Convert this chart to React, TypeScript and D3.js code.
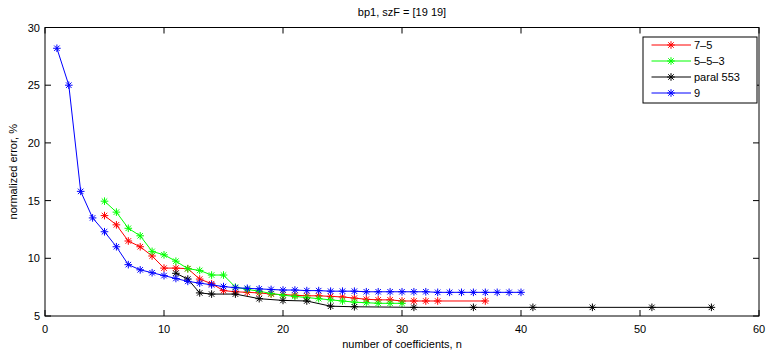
import React from "react";
import * as d3 from "d3";

// n values and normalized error (%) per series
const nRed = [5, 6, 7, 8, 9, 10, 11, 12, 13, 14, 15, 16, 17, 18, 19, 20, 21, 22, 23, 24, 25, 26, 27, 28, 29, 30, 31, 32, 33, 37];
const errRed = [13.7, 12.9, 11.5, 11.0, 10.2, 9.15, 9.15, 9.1, 8.2, 7.8, 7.2, 7.1, 7.05, 7.0, 6.9, 6.85, 6.8, 6.75, 6.75, 6.7, 6.65, 6.55, 6.45, 6.4, 6.4, 6.3, 6.3, 6.3, 6.3, 6.3];

const nGreen = [5, 6, 7, 8, 9, 10, 11, 12, 13, 14, 15, 16, 17, 18, 19, 20, 21, 22, 23, 24, 25, 26, 27, 28, 29, 30];
const errGreen = [14.95, 14.0, 12.6, 11.95, 10.6, 10.3, 9.75, 9.1, 8.95, 8.55, 8.55, 7.5, 7.3, 7.15, 6.95, 6.8, 6.7, 6.6, 6.5, 6.4, 6.3, 6.2, 6.15, 6.1, 6.1, 6.1];

const nBlack = [11, 12, 13, 14, 16, 18, 20, 22, 24, 26, 31, 36, 41, 46, 51, 56];
const errBlack = [8.7, 8.2, 7.0, 6.9, 6.9, 6.5, 6.35, 6.3, 5.85, 5.8, 5.75, 5.75, 5.75, 5.75, 5.75, 5.75];

const nBlue = [1, 2, 3, 4, 5, 6, 7, 8, 9, 10, 11, 12, 13, 14, 15, 16, 17, 18, 19, 20, 21, 22, 23, 24, 25, 26, 27, 28, 29, 30, 31, 32, 33, 34, 35, 36, 37, 38, 39, 40];
const errBlue = [28.2, 25.0, 15.8, 13.5, 12.3, 11.0, 9.45, 9.0, 8.75, 8.5, 8.25, 8.0, 7.85, 7.7, 7.55, 7.45, 7.4, 7.35, 7.3, 7.25, 7.25, 7.2, 7.2, 7.15, 7.15, 7.15, 7.1, 7.1, 7.1, 7.1, 7.1, 7.1, 7.05, 7.05, 7.05, 7.05, 7.05, 7.05, 7.05, 7.05];

const seriesNames = ["7\u20135", "5\u20135\u20133", "paral 553", "9"];
const seriesColors = ["#ff0000", "#00ff00", "#000000", "#0000ff"];

const xTicks = [0, 10, 20, 30, 40, 50, 60];
const yTicks = [5, 10, 15, 20, 25, 30];

const W = 768;
const H = 351;
const left = 45;
const right = 759;
const top = 27.5;
const bottom = 316;
const font = "Liberation Sans, Arial, sans-serif";

const star = (cx: number, cy: number, r: number) => {
  const d = r * 0.72;
  return `M${cx - r},${cy}L${cx + r},${cy}M${cx},${cy - r}L${cx},${cy + r}` +
    `M${cx - d},${cy - d}L${cx + d},${cy + d}M${cx - d},${cy + d}L${cx + d},${cy - d}`;
};

export default function App() {
  const x = d3.scaleLinear().domain([0, 60]).range([left, right]);
  const y = d3.scaleLinear().domain([5, 30]).range([bottom, top]);

  const series = [
    { n: nRed, v: errRed },
    { n: nGreen, v: errGreen },
    { n: nBlack, v: errBlack },
    { n: nBlue, v: errBlue },
  ].map((s, i) => ({
    name: seriesNames[i],
    color: seriesColors[i],
    pts: s.n.map((n, j) => [n, s.v[j]] as [number, number]),
  }));

  const line = d3
    .line<[number, number]>()
    .x((d) => x(d[0]))
    .y((d) => y(d[1]));

  const legX = 643;
  const legY = 37;
  const legW = 114;
  const legH = 66;

  return (
    <svg width={W} height={H} style={{ position: "absolute", left: 0, top: 0, background: "#fff" }}>
      <rect x={0} y={0} width={W} height={H} fill="#fff" />
      <text x={402} y={16} textAnchor="middle" fontFamily={font} fontSize={11}>
        bp1, szF = [19 19]
      </text>

      {series.map((s) => (
        <g key={s.name}>
          <path d={line(s.pts) || ""} fill="none" stroke={s.color} strokeWidth={1} />
          {s.pts.map((p, j) => (
            <path key={j} d={star(x(p[0]), y(p[1]), 3.8)} stroke={s.color} strokeWidth={1} fill="none" />
          ))}
        </g>
      ))}

      <rect x={left} y={top} width={right - left} height={bottom - top} fill="none" stroke="#000" strokeWidth={1} />
      {xTicks.map((t) => (
        <g key={"x" + t}>
          <line x1={x(t)} x2={x(t)} y1={bottom} y2={bottom - 6} stroke="#000" />
          <line x1={x(t)} x2={x(t)} y1={top} y2={top + 6} stroke="#000" />
          <text x={x(t)} y={bottom + 16.5} textAnchor="middle" fontFamily={font} fontSize={11}>
            {t}
          </text>
        </g>
      ))}
      {yTicks.map((t) => (
        <g key={"y" + t}>
          <line x1={left} x2={left + 6} y1={y(t)} y2={y(t)} stroke="#000" />
          <line x1={right} x2={right - 6} y1={y(t)} y2={y(t)} stroke="#000" />
          <text x={left - 5} y={y(t) + 4} textAnchor="end" fontFamily={font} fontSize={11}>
            {t}
          </text>
        </g>
      ))}

      <text x={402} y={348} textAnchor="middle" fontFamily={font} fontSize={11}>
        number of coefficients, n
      </text>
      <text
        transform={`translate(17,${(top + bottom) / 2}) rotate(-90)`}
        textAnchor="middle"
        fontFamily={font}
        fontSize={11}
      >
        normalized error, %
      </text>

      <rect x={legX} y={legY} width={legW} height={legH} fill="#fff" stroke="#000" strokeWidth={1} />
      {series.map((s, i) => {
        const ly = legY + 8 + i * 16;
        return (
          <g key={"leg" + i}>
            <line x1={651.5} x2={691} y1={ly} y2={ly} stroke={s.color} strokeWidth={1} />
            <path d={star(671, ly, 3.8)} stroke={s.color} strokeWidth={1} fill="none" />
            <text x={694} y={ly + 4} fontFamily={font} fontSize={11}>
              {s.name}
            </text>
          </g>
        );
      })}
    </svg>
  );
}
